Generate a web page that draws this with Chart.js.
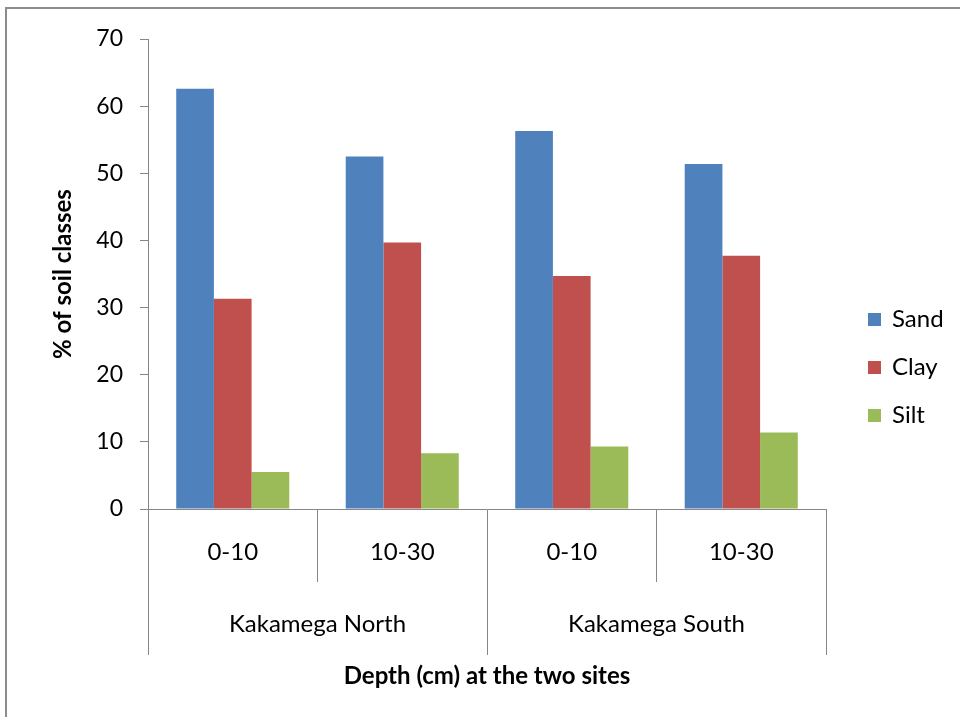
<!DOCTYPE html>
<html>
<head>
<meta charset="utf-8">
<script src="https://cdn.jsdelivr.net/npm/chart.js@4/dist/chart.umd.min.js"></script>
<style>
  html, body { margin: 0; padding: 0; background: #fff; }
  #wrap { position: relative; width: 960px; height: 717px; overflow: hidden; }
  canvas { position: absolute; left: 0; top: 0; }
  #frame {
    position: absolute; left: 5px; top: 7px; right: -4px; bottom: -4px;
    border-top: 2px solid #8c8c8c; border-left: 2px solid #8c8c8c;
    pointer-events: none;
  }
</style>
</head>
<body>
<div id="wrap">
  <canvas id="chart" width="960" height="717"></canvas>
  <div id="frame"></div>
</div>
<script>
// Depth classes (inner axis level) and sites (outer axis level)
const depths = ['0-10', '10-30', '0-10', '10-30'];
const sites = ['Kakamega North', 'Kakamega South'];
const depthsPerSite = 2;

// Soil texture fractions (%)
const sand = [62.6, 52.5, 56.3, 51.4];
const clay = [31.3, 39.7, 34.7, 37.7];
const silt = [5.5, 8.3, 9.3, 11.4];

// Y axis range
const yMin = 0;
const yMax = 70;
const yStep = 10;

const FONT = 'Lato, "Open Sans", sans-serif';
const AXIS_GRAY = '#868686';

// Two-level category axis: dividers and site names under the depth labels
const siteAxisPlugin = {
  id: 'siteAxis',
  afterDraw(chart, args, opts) {
    const xs = chart.scales.x;
    const ctx = chart.ctx;
    const innerLen = chart.options.scales.x.grid.tickLength;
    ctx.save();
    ctx.strokeStyle = AXIS_GRAY;
    ctx.lineWidth = 1;
    // outer dividers extend the full depth of both label rows
    for (let s = 0; s <= sites.length; s++) {
      const px = Math.round(xs.getPixelForValue(s * depthsPerSite - 0.5)) + 0.5;
      ctx.beginPath();
      ctx.moveTo(px, xs.top + innerLen);
      ctx.lineTo(px, xs.top + opts.outerLength);
      ctx.stroke();
    }
    ctx.fillStyle = '#000';
    ctx.font = opts.fontSize + 'px ' + FONT;
    ctx.textAlign = 'center';
    ctx.textBaseline = 'middle';
    sites.forEach((name, s) => {
      const a = xs.getPixelForValue(s * depthsPerSite - 0.5);
      const b = xs.getPixelForValue((s + 1) * depthsPerSite - 0.5);
      ctx.fillText(name, (a + b) / 2, xs.top + opts.labelOffset);
    });
    ctx.restore();
  }
};

// Legend at the right, square swatches with series names
const sideLegendPlugin = {
  id: 'sideLegend',
  afterDraw(chart, args, opts) {
    const ctx = chart.ctx;
    const area = chart.chartArea;
    const sets = chart.data.datasets;
    const x0 = area.right + opts.offsetX;
    const yCenter = opts.centerY;
    const n = sets.length;
    ctx.save();
    ctx.font = opts.fontSize + 'px ' + FONT;
    ctx.textBaseline = 'middle';
    ctx.textAlign = 'left';
    sets.forEach((ds, i) => {
      const y = yCenter + (i - (n - 1) / 2) * opts.spacing;
      ctx.fillStyle = ds.backgroundColor;
      ctx.fillRect(x0, Math.round(y - opts.box / 2), opts.box, opts.box);
      ctx.fillStyle = '#000';
      ctx.fillText(ds.label, x0 + opts.box + opts.gap, y);
    });
    ctx.restore();
  }
};

new Chart(document.getElementById('chart'), {
  type: 'bar',
  data: {
    labels: depths,
    datasets: [
      { label: 'Sand', data: sand, backgroundColor: '#4F81BD' },
      { label: 'Clay', data: clay, backgroundColor: '#C0504D' },
      { label: 'Silt', data: silt, backgroundColor: '#9BBB59' }
    ]
  },
  options: {
    responsive: false,
    animation: false,
    devicePixelRatio: 1,
    layout: { padding: { top: 39, right: 134, bottom: 0, left: 0 } },
    datasets: { bar: { categoryPercentage: 0.667, barPercentage: 1.0 } },
    plugins: {
      legend: { display: false },
      tooltip: { enabled: false },
      siteAxis: { outerLength: 146, labelOffset: 115, fontSize: 24 },
      sideLegend: { offsetX: 42, centerY: 367, spacing: 48, box: 13, gap: 11, fontSize: 24 }
    },
    scales: {
      x: {
        type: 'category',
        offset: true,
        grid: {
          offset: true,
          drawOnChartArea: false,
          drawTicks: true,
          tickLength: 73,
          color: AXIS_GRAY
        },
        border: { color: AXIS_GRAY },
        ticks: {
          color: '#000',
          font: { family: FONT, size: 24 },
          padding: -44,
          maxRotation: 0
        },
        title: {
          display: true,
          text: 'Depth (cm) at the two sites',
          color: '#000',
          font: { family: FONT, size: 24, weight: 'bold' },
          padding: { top: 26, bottom: 26 }
        },
        afterFit(scale) { scale.height = 208; }
      },
      y: {
        min: yMin,
        max: yMax,
        ticks: {
          stepSize: yStep,
          color: '#000',
          font: { family: FONT, size: 23 },
          padding: 17
        },
        grid: {
          drawOnChartArea: false,
          drawTicks: true,
          tickLength: 8,
          color: AXIS_GRAY
        },
        border: { color: AXIS_GRAY },
        title: {
          display: true,
          text: '% of soil classes',
          color: '#000',
          font: { family: FONT, size: 24, weight: 'bold' },
          padding: { top: 49, bottom: 49 }
        },
        afterFit(scale) { scale.width = 148; }
      }
    }
  },
  plugins: [siteAxisPlugin, sideLegendPlugin]
});
</script>
</body>
</html>
